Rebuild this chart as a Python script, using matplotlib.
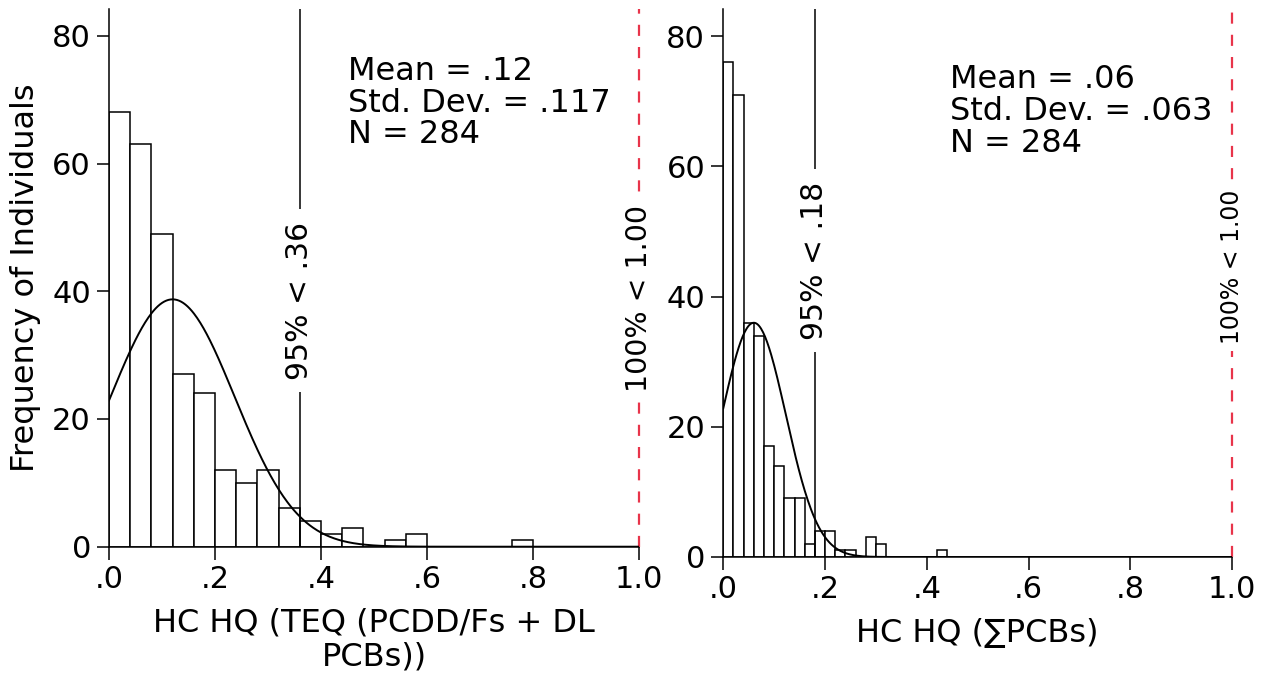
import numpy as np
import matplotlib
matplotlib.use("Agg")
import matplotlib.pyplot as plt

plt.rcParams['font.family'] = ['DejaVu Sans']

# ---- data ----
left_bin_width = 0.04
left_counts = [68, 63, 49, 27, 24, 12, 10, 12, 6, 4, 2, 3, 0, 1, 2, 0, 0, 0, 0, 1]
left_mean, left_sd, left_n = 0.12, 0.117, 284
left_p95 = 0.36

right_bin_width = 0.02
right_counts = [76, 71, 36, 34, 17, 14, 9, 9, 2, 4, 4, 1, 1, 0, 3, 2, 0, 0, 0, 0, 0, 1]
right_mean, right_sd, right_n = 0.06, 0.063, 284
right_p95 = 0.18

x_ticks = [0.0, 0.2, 0.4, 0.6, 0.8, 1.0]
x_tick_labels = ['.0', '.2', '.4', '.6', '.8', '1.0']
y_ticks = [0, 20, 40, 60, 80]

left_stats = "Mean = .12\nStd. Dev. = .117\nN = 284"
right_stats = "Mean = .06\nStd. Dev. = .063\nN = 284"
left_xlabel = "HC HQ (TEQ (PCDD/Fs + DL\nPCBs))"
right_xlabel = "HC HQ (\u2211PCBs)"
ylabel = "Frequency of Individuals"

FS = 23
TFS = 22
RFS = 21.5
RED = '#e8344a'
fig = plt.figure(figsize=(12.68, 6.79), dpi=100)

def panel(rect, counts, bw, mean, sd, n, p95, p95_label, stats, stats_xy,
          xlabel, ymax, p95_y, max_y, max_fs):
    ax = fig.add_axes(rect)
    edges = np.arange(len(counts)) * bw
    ax.bar(edges, counts, width=bw, align='edge', color='white',
           edgecolor='black', linewidth=1.1, zorder=2)
    xs = np.linspace(0, 1.0, 500)
    pdf = n * bw / (sd * np.sqrt(2 * np.pi)) * np.exp(-0.5 * ((xs - mean) / sd) ** 2)
    ax.plot(xs, pdf, color='black', lw=1.4, zorder=4)
    ax.axvline(p95, color='black', lw=1.1, zorder=3)
    ax.axvline(1.0, color=RED, lw=1.6, ls=(0, (5, 5)), zorder=3, clip_on=False)
    ax.text(p95, p95_y, p95_label, rotation=90, ha='center', va='center',
            fontsize=RFS, zorder=5,
            bbox=dict(facecolor='white', edgecolor='none', pad=9))
    ax.text(1.0, max_y, "100% < 1.00", rotation=90, ha='center', va='center',
            fontsize=max_fs, zorder=5,
            bbox=dict(facecolor='white', edgecolor='none', pad=5))
    ax.text(stats_xy[0], stats_xy[1], stats, transform=ax.transAxes,
            ha='left', va='top', fontsize=FS, linespacing=1.03)
    ax.set_xlim(0, 1.0)
    ax.set_ylim(0, ymax)
    ax.set_xticks(x_ticks)
    ax.set_xticklabels(x_tick_labels)
    ax.set_yticks(y_ticks)
    ax.tick_params(axis='both', labelsize=TFS, length=9, width=1.1, pad=4)
    for s in ('top', 'right'):
        ax.spines[s].set_visible(False)
    for s in ('left', 'bottom'):
        ax.spines[s].set_linewidth(1.1)
    ax.set_xlabel(xlabel, fontsize=FS, linespacing=1.1, labelpad=10)
    return ax

axL = panel([109/1268, 1 - 546.7/679, 530/1268, 537.7/679],
            left_counts, left_bin_width, left_mean, left_sd, left_n,
            left_p95, "95% < .36", left_stats, ((348-109)/530, 1 - (56-9)/537.7),
            left_xlabel, 84.2, 38.5, 38.8, 20.5)
axL.set_ylabel(ylabel, fontsize=FS, labelpad=8)

axR = panel([723.3/1268, 1 - 557/679, 508.7/1268, 547.7/679],
            right_counts, right_bin_width, right_mean, right_sd, right_n,
            right_p95, "95% < .18", right_stats, ((950-723.3)/508.7, 1 - (64-9)/547.7),
            right_xlabel, 84.1, 45.5, 44.6, 17)

fig.savefig("out.png", dpi=100)
